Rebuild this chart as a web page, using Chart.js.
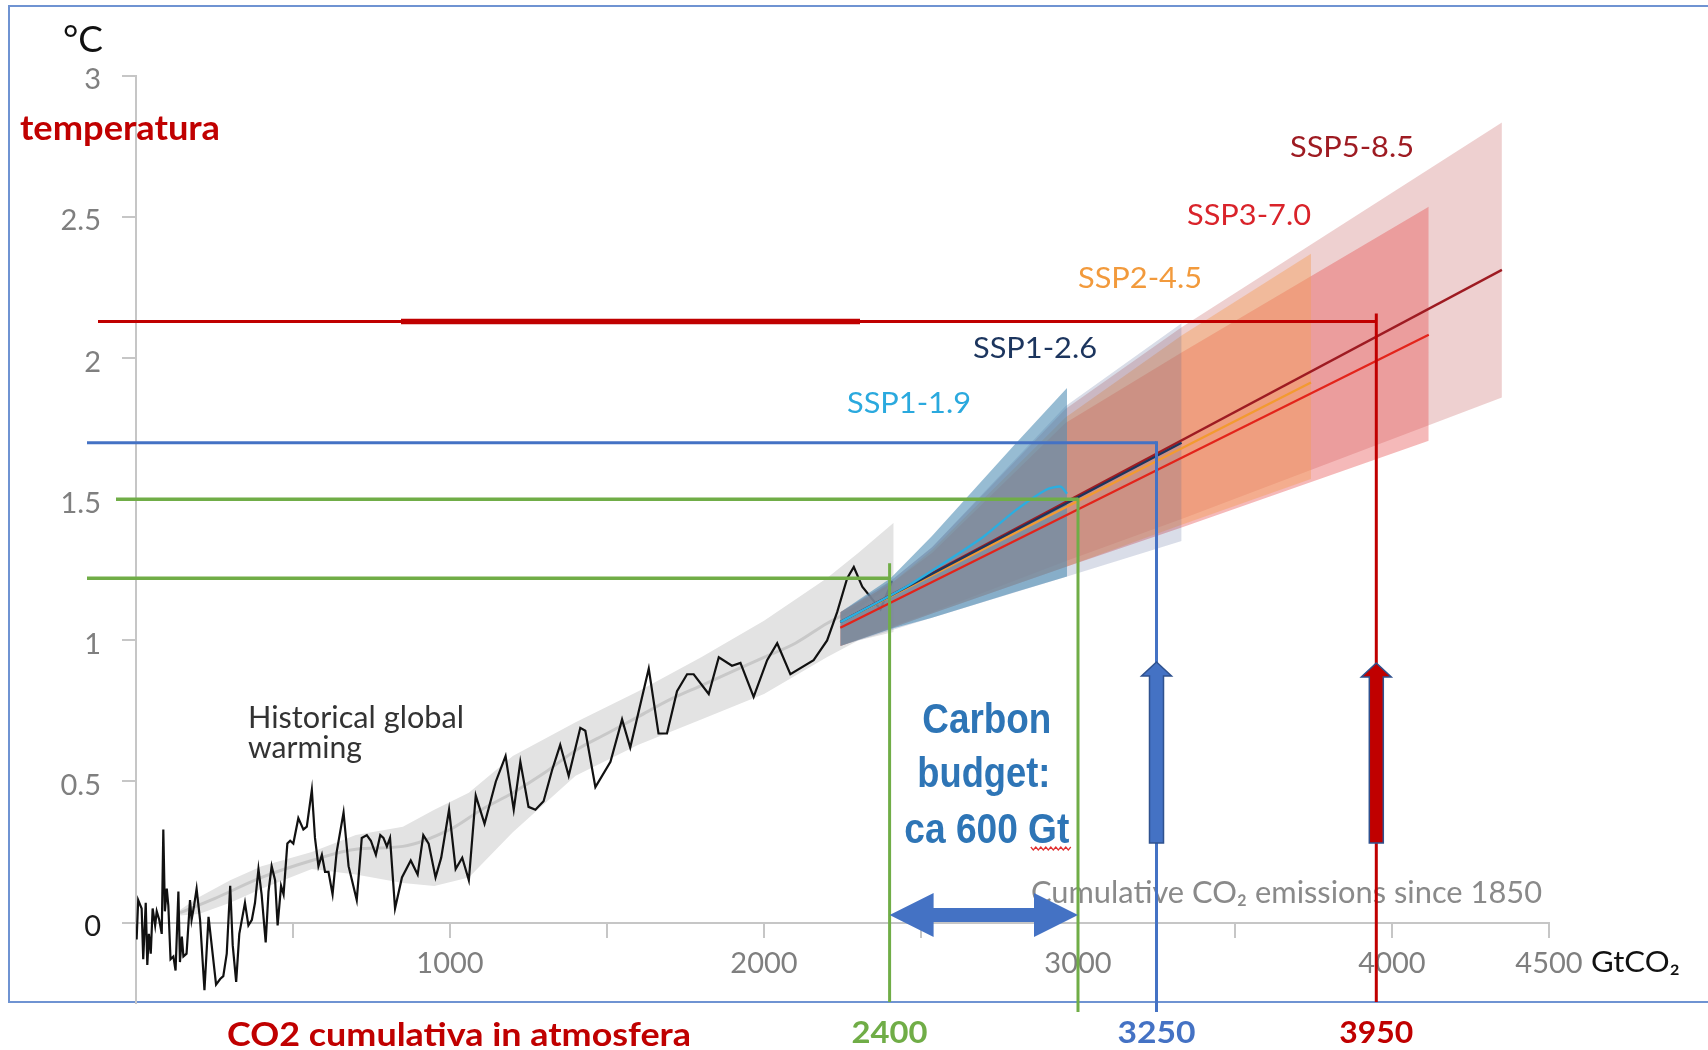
<!DOCTYPE html>
<html>
<head>
<meta charset="utf-8">
<title>Carbon budget</title>
<script src="https://cdn.jsdelivr.net/npm/chart.js@4.4.1/dist/chart.umd.min.js"></script>
<style>
  html, body { margin: 0; padding: 0; background: #ffffff; }
  canvas { display: block; }
</style>
</head>
<body>
<canvas id="chart" width="1708" height="1050"></canvas>
<script>
// ---- Observed warming vs. cumulative CO2 emissions since 1850 ----
const histEmissions = [2,7,18,23,31,36,41,47,53,61,66,74,82,87,92,98,103,110,119,126,135,140,146,151,161,172,177,185,193,204,218,231,241,255,268,278,289,300,308,319,329,347,358,369,379,390,400,413,422,432,443,451,462,470,482,491,501,517,533,544,560,570,581,592,602,613,626,639,661,677,703,719,735,748,764,778,788,799,809,825,847,875,897,915,932,954,972,997,1018,1039,1060,1082,1110,1146,1177,1203,1224,1250,1272,1298,1325,1351,1378,1415,1431,1463,1511,1548,1574,1633,1664,1691,1723,1755,1776,1824,1856,1898,1925,1967,2010,2042,2084,2158,2201,2233,2265,2286,2313,2371,2408];
const histWarming = [-0.06,0.08,0.05,-0.13,0.07,-0.15,-0.04,-0.11,0.05,-0.01,0.04,0.01,-0.04,0.33,0.04,0.12,0.06,-0.13,-0.12,-0.17,0.11,-0.14,-0.05,-0.12,-0.11,0.08,0.01,0.06,0.12,0.01,-0.24,0.02,-0.08,-0.22,-0.20,-0.19,-0.11,0.13,-0.08,-0.21,-0.04,0.07,-0.01,0.01,0.07,0.19,0.10,-0.07,0.11,0.20,0.15,-0.01,0.13,0.10,0.28,0.29,0.28,0.37,0.33,0.34,0.47,0.30,0.20,0.24,0.18,0.18,0.10,0.25,0.39,0.20,0.08,0.30,0.31,0.29,0.24,0.31,0.30,0.27,0.30,0.05,0.16,0.22,0.17,0.31,0.28,0.16,0.23,0.40,0.19,0.23,0.15,0.45,0.35,0.50,0.59,0.40,0.57,0.41,0.40,0.43,0.54,0.63,0.52,0.69,0.68,0.48,0.57,0.72,0.62,0.90,0.67,0.67,0.82,0.88,0.88,0.81,0.94,0.91,0.92,0.80,0.93,0.99,0.88,0.93,1.00,1.10,1.22,1.26,1.19,1.11,1.21];

// Smoothed historical estimate and its likely range
const trendEmissions = [140,250,400,560,700,850,1000,1100,1200,1300,1400,1500,1600,1700,1800,1900,2000,2100,2200,2300,2400];
const trendWarming = [0.035,0.085,0.16,0.22,0.26,0.27,0.33,0.40,0.46,0.53,0.61,0.67,0.73,0.79,0.84,0.89,0.94,0.99,1.06,1.12,1.20];
const rangeEmissions = [140,200,300,400,560,700,850,950,1060,1200,1400,1600,1800,2000,2200,2300,2413];
const rangeLow = [0.025,0.03,0.07,0.12,0.19,0.17,0.14,0.13,0.16,0.32,0.52,0.63,0.72,0.81,0.94,1.00,1.03];
const rangeHigh = [0.045,0.09,0.15,0.20,0.25,0.31,0.34,0.40,0.46,0.59,0.71,0.82,0.94,1.07,1.22,1.31,1.417];

// Scenario projections: likely range and central estimate
const ssp119RangeX = [2243,2403,2535,2795,2965];
const ssp119Low    = [0.98,1.04,1.08,1.17,1.226];
const ssp119High   = [1.10,1.22,1.37,1.69,1.894];
const ssp119MidX   = [2243,2450,2690,2800,2900,2945,2965];
const ssp119Mid    = [1.065,1.188,1.36,1.46,1.535,1.545,1.52];

const ssp126RangeX = [2243,2403,2535,2960,3330];
const ssp126Low    = [0.98,1.035,1.08,1.225,1.352];
const ssp126High   = [1.10,1.21,1.33,1.83,2.124];
const ssp126MidX   = [2243,2800,3330];
const ssp126Mid    = [1.065,1.39,1.70];

const ssp245RangeX = [2243,2403,2535,2960,3330,3742];
const ssp245Low    = [0.98,1.043,1.095,1.26,1.41,1.572];
const ssp245High   = [1.10,1.20,1.32,1.79,2.08,2.37];
const ssp245MidX   = [2243,3742];
const ssp245Mid    = [1.065,1.914];

const ssp370RangeX = [2243,2403,2535,2960,3330,4117];
const ssp370Low    = [0.98,1.042,1.095,1.26,1.40,1.707];
const ssp370High   = [1.10,1.20,1.31,1.77,2.02,2.537];
const ssp370MidX   = [2243,4117];
const ssp370Mid    = [1.045,2.083];

const ssp585RangeX = [2243,2403,2535,2960,3330,4350];
const ssp585Low    = [0.98,1.047,1.10,1.28,1.43,1.861];
const ssp585High   = [1.10,1.21,1.33,1.82,2.11,2.835];
const ssp585MidX   = [2243,4350];
const ssp585Mid    = [1.065,2.313];

const scenarioNames = ['SSP5-8.5','SSP3-7.0','SSP2-4.5','SSP1-2.6','SSP1-1.9'];

// Guide lines: warming level and the cumulative emissions where it is reached
const guideWarming   = [2.13, 1.7, 1.5, 1.22];
const guideEmissions = [3950, 3250, 3000, 2400];
const budgetLabels   = [2400, 3250, 3950];
const budgetRange    = [2400, 3000];

// Axis ticks
const yTickValues = [0, 0.5, 1, 1.5, 2, 2.5, 3];
const xTickValues = [0, 500, 1000, 1500, 2000, 2500, 3000, 3500, 4000, 4500];
const xTickLabels = [1000, 2000, 3000, 4000, 4500];

// ------------------------------------------------------------------
const pts = (xs, ys) => xs.map((x, i) => ({ x: x, y: ys[i] }));

const C = {
  red: '#C00000', blue: '#4472C4', green: '#70AD47', budget: '#2E75B6',
  axis: '#c6c6c6', tick: '#7f7f7f'
};

function edge(data, order) {
  return { data, order, borderWidth: 0, borderColor: 'rgba(0,0,0,0)', pointRadius: 0, fill: false };
}
function band(data, order, target, color) {
  return { data, order, borderWidth: 0, borderColor: 'rgba(0,0,0,0)', pointRadius: 0,
           fill: { target: target }, backgroundColor: color };
}
function line(data, order, color, width, extra) {
  return Object.assign({ data, order, borderColor: color, borderWidth: width, pointRadius: 0,
                         fill: false, tension: 0 }, extra || {});
}

const datasets = [
  edge(pts(rangeEmissions, rangeLow), 100),                                   // 0
  band(pts(rangeEmissions, rangeHigh), 99, 0, '#e3e3e3'),                     // 1
  line(pts(trendEmissions, trendWarming), 98, '#c8c8c8', 3, { tension: 0.4, cubicInterpolationMode: 'monotone' }), // 2
  line(pts(histEmissions, histWarming), 97, '#111111', 2.2),                  // 3
  edge(pts(ssp585RangeX, ssp585Low), 90),                                     // 4
  band(pts(ssp585RangeX, ssp585High), 89, 4, 'rgba(205,120,120,0.35)'),       // 5
  edge(pts(ssp370RangeX, ssp370Low), 88),                                     // 6
  band(pts(ssp370RangeX, ssp370High), 87, 6, 'rgba(230,80,80,0.40)'),         // 7
  edge(pts(ssp245RangeX, ssp245Low), 86),                                     // 8
  band(pts(ssp245RangeX, ssp245High), 85, 8, 'rgba(245,160,90,0.45)'),        // 9
  edge(pts(ssp126RangeX, ssp126Low), 84),                                     // 10
  band(pts(ssp126RangeX, ssp126High), 83, 10, 'rgba(80,100,150,0.22)'),       // 11
  edge(pts(ssp119RangeX, ssp119Low), 82),                                     // 12
  band(pts(ssp119RangeX, ssp119High), 81, 12, 'rgba(75,140,180,0.58)'),       // 13
  line(pts(ssp585MidX, ssp585Mid), 10, '#9E1B22', 2.3),
  line(pts(ssp370MidX, ssp370Mid), 9, '#E3241B', 2.3),
  line(pts(ssp245MidX, ssp245Mid), 8, '#F39A30', 2.3),
  line(pts(ssp126MidX, ssp126Mid), 7, '#1C355E', 2.3),
  line(pts(ssp119MidX, ssp119Mid), 6, '#2BAEE0', 2.3, { tension: 0.2 })
];

// Text drawn at a given size, stretched horizontally to a given width
function text(ctx, str, x, y, o) {
  ctx.save();
  ctx.font = (o.weight || 400) + ' ' + o.size + 'px ' + (o.family || 'Lato, sans-serif');
  ctx.fillStyle = o.color;
  ctx.textBaseline = 'alphabetic';
  ctx.textAlign = 'left';
  const w = ctx.measureText(str).width;
  const sx = o.width ? o.width / w : 1;
  const dw = w * sx;
  let left = x;
  if (o.align === 'center') left = x - dw / 2;
  else if (o.align === 'right') left = x - dw;
  ctx.translate(left, y);
  ctx.scale(sx, 1);
  ctx.fillText(str, 0, 0);
  ctx.restore();
}

function hLine(ctx, x1, x2, y, color, w) {
  ctx.beginPath(); ctx.strokeStyle = color; ctx.lineWidth = w;
  ctx.moveTo(x1, y); ctx.lineTo(x2, y); ctx.stroke();
}
function vLine(ctx, x, y1, y2, color, w) {
  ctx.beginPath(); ctx.strokeStyle = color; ctx.lineWidth = w;
  ctx.moveTo(x, y1); ctx.lineTo(x, y2); ctx.stroke();
}
function upArrow(ctx, x, tip, bottom, fill, stroke) {
  const headLen = 14, headHalf = 15, shaftHalf = 7;
  ctx.beginPath();
  ctx.moveTo(x, tip);
  ctx.lineTo(x + headHalf, tip + headLen);
  ctx.lineTo(x + shaftHalf, tip + headLen);
  ctx.lineTo(x + shaftHalf, bottom);
  ctx.lineTo(x - shaftHalf, bottom);
  ctx.lineTo(x - shaftHalf, tip + headLen);
  ctx.lineTo(x - headHalf, tip + headLen);
  ctx.closePath();
  ctx.fillStyle = fill; ctx.fill();
  ctx.strokeStyle = stroke; ctx.lineWidth = 1.5; ctx.stroke();
}
function doubleArrow(ctx, x1, x2, y, color) {
  const headLen = 44, headHalf = 22, shaftHalf = 7;
  ctx.beginPath();
  ctx.moveTo(x1, y);
  ctx.lineTo(x1 + headLen, y - headHalf);
  ctx.lineTo(x1 + headLen, y - shaftHalf);
  ctx.lineTo(x2 - headLen, y - shaftHalf);
  ctx.lineTo(x2 - headLen, y - headHalf);
  ctx.lineTo(x2, y);
  ctx.lineTo(x2 - headLen, y + headHalf);
  ctx.lineTo(x2 - headLen, y + shaftHalf);
  ctx.lineTo(x1 + headLen, y + shaftHalf);
  ctx.lineTo(x1 + headLen, y + headHalf);
  ctx.closePath();
  ctx.fillStyle = color; ctx.fill();
}

const decorations = {
  id: 'decorations',
  beforeDraw(chart) {
    const ctx = chart.ctx;
    ctx.save();
    ctx.fillStyle = '#ffffff';
    ctx.fillRect(0, 0, chart.width, chart.height);
    ctx.strokeStyle = '#6f93d2';
    ctx.lineWidth = 2;
    ctx.strokeRect(9, 6, 1760, 996);
    ctx.restore();
  },
  afterDatasetsDraw(chart) {
    const ctx = chart.ctx;
    const xs = chart.scales.x, ys = chart.scales.y;
    const X = v => xs.getPixelForValue(v);
    const Y = v => ys.getPixelForValue(v);
    ctx.save();

    // axis captions and curve labels
    text(ctx, '°C', 63, 52, { size: 37, color: '#111', width: 40 });
    text(ctx, 'temperatura', 20, 140, { size: 34, weight: 700, color: C.red, width: 200 });
    text(ctx, 'Historical global', 248, 728, { size: 30, color: '#333', width: 216 });
    text(ctx, 'warming', 248, 758, { size: 30, color: '#333', width: 114 });
    text(ctx, 'Cumulative CO₂ emissions since 1850', 1031, 903, { size: 31, color: '#8a8a8a', width: 511 });
    text(ctx, 'GtCO₂', 1591, 972, { size: 29, color: '#111', width: 89 });

    const sspColors = ['#9E1B22', '#D9232A', '#F29A3C', '#1C355E', '#2AA9DE'];
    const sspPos = [[1290, 157], [1187, 225], [1078, 288], [973, 358], [847, 413]];
    scenarioNames.forEach((n, i) => {
      text(ctx, n, sspPos[i][0], sspPos[i][1], { size: 29, color: sspColors[i], width: 124 });
    });

    // carbon budget caption
    const mid = X((budgetRange[0] + budgetRange[1]) / 2) + 3;
    const bf = 'Liberation Sans, Arial, sans-serif';
    text(ctx, 'Carbon', mid, 733, { size: 42, weight: 700, family: bf, color: C.budget, width: 129, align: 'center' });
    text(ctx, 'budget:', mid - 3, 787, { size: 42, weight: 700, family: bf, color: C.budget, width: 133, align: 'center' });
    text(ctx, 'ca ' + (budgetRange[1] - budgetRange[0]) + ' Gt', mid, 843, { size: 42, weight: 700, family: bf, color: C.budget, width: 165, align: 'center' });
    // spell-check squiggle under "Gt"
    ctx.beginPath();
    ctx.strokeStyle = '#e03030'; ctx.lineWidth = 1.2;
    for (let i = 0, x = mid + 44; x <= mid + 84; i++, x += 2.5) {
      const yy = 848 + (i % 2 ? 2 : -1);
      if (i === 0) ctx.moveTo(x, yy); else ctx.lineTo(x, yy);
    }
    ctx.stroke();

    // guide lines
    const [tRed, tBlue, tGreenHi, tGreenLo] = guideWarming.map(Y);
    const [eRed, eBlue, eGreenHi, eGreenLo] = guideEmissions.map(X);
    hLine(ctx, 98, eRed, tRed, C.red, 3);
    hLine(ctx, 401, 860, tRed, C.red, 5.5);
    vLine(ctx, eRed, tRed - 8, 1002, C.red, 3);
    hLine(ctx, 87, eBlue, tBlue, C.blue, 3);
    vLine(ctx, eBlue, tBlue - 1.5, 1012, C.blue, 3);
    hLine(ctx, 116, eGreenHi, tGreenHi, C.green, 3.5);
    vLine(ctx, eGreenHi, tGreenHi - 1.5, 1012, C.green, 3);
    hLine(ctx, 87, eGreenLo, tGreenLo, C.green, 3.5);
    vLine(ctx, eGreenLo, tGreenLo - 15, 1002, C.green, 3);

    // arrows
    doubleArrow(ctx, X(budgetRange[0]), X(budgetRange[1]), 915, C.blue);
    upArrow(ctx, eBlue, 662, 843, C.blue, '#2F528F');
    upArrow(ctx, eRed, 663, 843, C.red, '#2F528F');

    // emission values under the guide lines
    const lblColors = [C.green, C.blue, C.red];
    const lblWidths = [76, 78, 74];
    budgetLabels.forEach((v, i) => {
      text(ctx, String(v), X(v), 1043, { size: 30, weight: 700, color: lblColors[i], width: lblWidths[i], align: 'center' });
    });
    text(ctx, 'CO2 cumulativa in atmosfera', 227, 1046, { size: 32, weight: 700, color: C.red, width: 464 });

    ctx.restore();
  }
};

Chart.defaults.font.family = 'Lato, sans-serif';

new Chart(document.getElementById('chart'), {
  type: 'line',
  data: { datasets },
  options: {
    responsive: false,
    animation: false,
    devicePixelRatio: 1,
    layout: { padding: { left: 0, right: 159, top: 76, bottom: 47 } },
    plugins: {
      legend: { display: false },
      tooltip: { enabled: false },
      filler: { propagate: false }
    },
    elements: { point: { radius: 0 } },
    scales: {
      x: {
        type: 'linear',
        position: { y: 0 },
        min: 0, max: 4500,
        afterBuildTicks: axis => { axis.ticks = xTickValues.map(v => ({ value: v })); },
        ticks: {
          autoSkip: false, maxRotation: 0, padding: 10,
          color: C.tick, font: { size: 29 },
          callback: v => (xTickLabels.includes(v) ? String(v) : '')
        },
        grid: { drawOnChartArea: false, drawTicks: true, tickLength: 14, color: C.axis, lineWidth: 2 },
        border: { color: C.axis, width: 2 }
      },
      y: {
        type: 'linear',
        position: 'left',
        min: -0.285, max: 3,
        afterFit: scale => { scale.width = 136; },
        afterBuildTicks: axis => { axis.ticks = yTickValues.map(v => ({ value: v })); },
        ticks: {
          padding: 21,
          labelOffset: 4,
          font: { size: 29 },
          color: c => (c.tick && c.tick.value === 0 ? '#1a1a1a' : C.tick),
          callback: v => String(v)
        },
        grid: { drawOnChartArea: false, drawTicks: true, tickLength: 14, color: C.axis, lineWidth: 2 },
        border: { color: C.axis, width: 2 }
      }
    }
  },
  plugins: [decorations]
});
</script>
</body>
</html>
